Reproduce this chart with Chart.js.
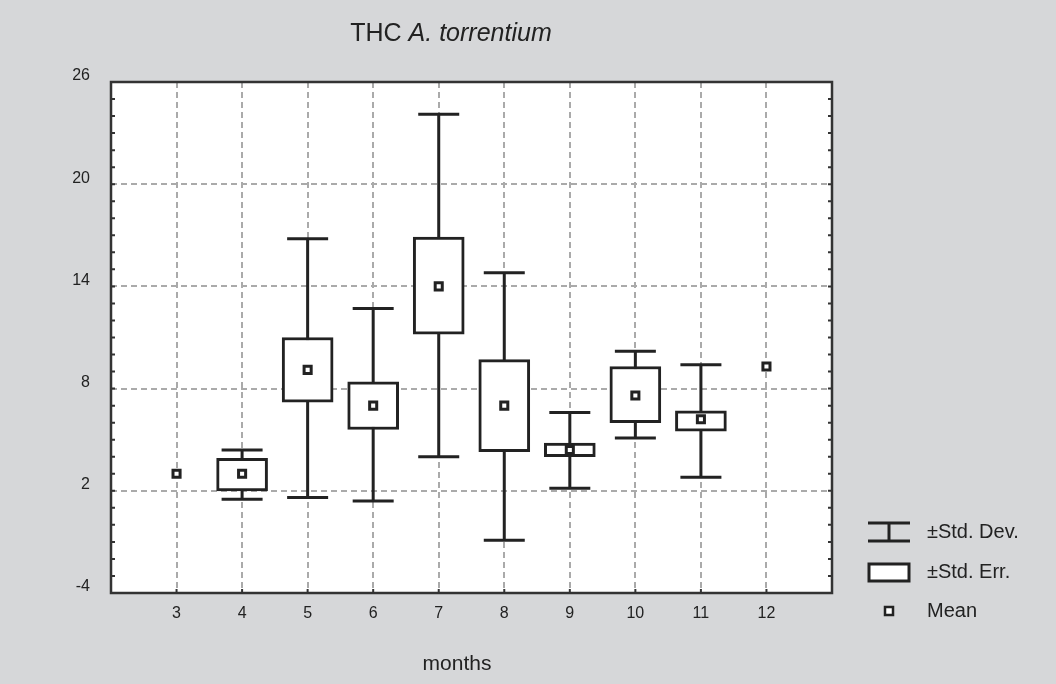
<!DOCTYPE html>
<html>
<head>
<meta charset="utf-8">
<script src="https://cdn.jsdelivr.net/npm/chart.js@4"></script>
<style>
  html, body { margin: 0; padding: 0; background: #d6d7d9; }
  #wrap { width: 1056px; height: 684px; position: relative; }
</style>
</head>
<body>
<div id="wrap"><canvas id="chart"></canvas></div>
<script>
// data
const months = [3, 4, 5, 6, 7, 8, 9, 10, 11, 12];
const means  = [3.0, 3.0, 9.1, 7.0, 14.0, 7.0, 4.4, 7.6, 6.2, 9.3];
const seLow  = [null, 2.0, 7.2, 5.6, 11.2, 4.3, 4.0, 6.0, 5.5, null];
const seHigh = [null, 3.9, 11.0, 8.4, 16.9, 9.7, 4.8, 9.3, 6.7, null];
const sdLow  = [null, 1.5, 1.6, 1.4, 4.0, -0.9, 2.15, 5.1, 2.8, null];
const sdHigh = [null, 4.4, 16.8, 12.7, 24.1, 14.8, 6.6, 10.2, 9.4, null];
const yMajor = [-4, 2, 8, 14, 20, 26];

const INK = '#222222';
const FONT = '"Liberation Sans", Arial, sans-serif';

const boxData = [];
months.forEach((m, i) => {
  if (seLow[i] !== null) boxData.push({ x: m, y: [seLow[i], seHigh[i]] });
});
const meanData = months.map((m, i) => ({ x: m, y: means[i] }));

// plot background, frame, inward ticks, whiskers, title, legend
const decor = {
  id: 'decor',
  beforeDraw(chart) {
    const { ctx, chartArea: a } = chart;
    ctx.save();
    ctx.fillStyle = '#ffffff';
    ctx.fillRect(a.left, a.top, a.right - a.left, a.bottom - a.top);
    ctx.restore();
  },
  beforeDatasetsDraw(chart) {
    const { ctx, scales: { x, y } } = chart;
    ctx.save();
    ctx.strokeStyle = INK;
    ctx.lineWidth = 3;
    months.forEach((m, i) => {
      if (sdLow[i] === null) return;
      const px = x.getPixelForValue(m);
      const top = y.getPixelForValue(sdHigh[i]);
      const bot = y.getPixelForValue(sdLow[i]);
      ctx.beginPath();
      ctx.moveTo(px, top); ctx.lineTo(px, bot);
      ctx.moveTo(px - 20.5, top); ctx.lineTo(px + 20.5, top);
      ctx.moveTo(px - 20.5, bot); ctx.lineTo(px + 20.5, bot);
      ctx.stroke();
    });
    ctx.restore();
  },
  afterDraw(chart) {
    const { ctx, chartArea: a, scales: { x, y } } = chart;
    ctx.save();
    // inward ticks
    ctx.strokeStyle = '#333333';
    ctx.lineWidth = 2;
    ctx.beginPath();
    y.ticks.forEach(t => {
      const py = y.getPixelForValue(t.value);
      ctx.moveTo(a.left, py); ctx.lineTo(a.left + 4, py);
      ctx.moveTo(a.right, py); ctx.lineTo(a.right - 4, py);
    });
    x.ticks.forEach(t => {
      const px = x.getPixelForValue(t.value);
      ctx.moveTo(px, a.bottom); ctx.lineTo(px, a.bottom - 4);
    });
    ctx.stroke();
    // frame
    ctx.lineWidth = 2.5;
    ctx.strokeRect(a.left, a.top, a.right - a.left, a.bottom - a.top);

    // title
    ctx.fillStyle = INK;
    ctx.textBaseline = 'alphabetic';
    ctx.textAlign = 'left';
    const t1 = 'THC ', t2 = 'A. torrentium';
    ctx.font = '25px ' + FONT;
    const w1 = ctx.measureText(t1).width;
    ctx.font = 'italic 25px ' + FONT;
    const w2 = ctx.measureText(t2).width;
    const tx = 451 - (w1 + w2) / 2;
    ctx.font = '25px ' + FONT;
    ctx.fillText(t1, tx, 41);
    ctx.font = 'italic 25px ' + FONT;
    ctx.fillText(t2, tx + w1, 41);

    // x axis title
    ctx.font = '21px ' + FONT;
    ctx.textAlign = 'center';
    ctx.fillText('months', 457, 670);

    // legend
    ctx.strokeStyle = INK;
    ctx.lineWidth = 3;
    ctx.beginPath();
    ctx.moveTo(868, 523); ctx.lineTo(910, 523);
    ctx.moveTo(868, 541); ctx.lineTo(910, 541);
    ctx.moveTo(889, 523); ctx.lineTo(889, 541);
    ctx.stroke();
    ctx.fillStyle = '#ffffff';
    ctx.fillRect(869, 564, 40, 17);
    ctx.strokeRect(869, 564, 40, 17);
    ctx.lineWidth = 2.5;
    ctx.fillRect(885, 607, 8, 8);
    ctx.strokeRect(885, 607, 8, 8);
    ctx.fillStyle = INK;
    ctx.font = '20px ' + FONT;
    ctx.textAlign = 'left';
    ctx.textBaseline = 'middle';
    ctx.fillText('\u00b1Std. Dev.', 927, 532);
    ctx.fillText('\u00b1Std. Err.', 927, 572);
    ctx.fillText('Mean', 927, 611);
    ctx.restore();
  }
};

new Chart(document.getElementById('chart'), {
  type: 'bar',
  data: {
    datasets: [
      {
        label: '\u00b1Std. Err.',
        data: boxData,
        backgroundColor: '#ffffff',
        borderColor: INK,
        borderWidth: 3,
        borderSkipped: false,
        barThickness: 51,
        order: 2
      },
      {
        type: 'scatter',
        label: 'Mean',
        data: meanData,
        pointStyle: 'rect',
        pointRadius: 5,
        pointBorderWidth: 3,
        pointBackgroundColor: '#ffffff',
        pointBorderColor: INK,
        order: 1
      }
    ]
  },
  options: {
    responsive: true,
    maintainAspectRatio: false,
    animation: false,
    layout: { padding: { top: 82, right: 224, bottom: 0, left: 0 } },
    plugins: {
      legend: { display: false },
      tooltip: { enabled: false },
      title: { display: false }
    },
    scales: {
      x: {
        type: 'linear',
        min: 2,
        max: 13,
        offset: false,
        afterFit: s => { s.height = 91; },
        border: { display: false, dash: [6, 4] },
        grid: {
          offset: false,
          drawTicks: false,
          lineWidth: 2,
          color: c => (c.tick && c.tick.value > 2 && c.tick.value < 13) ? '#aaaaaa' : 'rgba(0,0,0,0)'
        },
        ticks: {
          stepSize: 1,
          autoSkip: false,
          maxRotation: 0,
          padding: 11,
          color: INK,
          font: { family: FONT, size: 16 },
          callback: v => (v > 2 && v < 13) ? String(v) : ''
        }
      },
      y: {
        min: -4,
        max: 26,
        afterFit: s => { s.width = 111; },
        border: { display: false, dash: [6, 4] },
        grid: {
          drawTicks: false,
          lineWidth: 2,
          color: c => (c.tick && yMajor.includes(c.tick.value) && c.tick.value > -4 && c.tick.value < 26) ? '#aaaaaa' : 'rgba(0,0,0,0)'
        },
        ticks: {
          stepSize: 1,
          autoSkip: false,
          padding: 21,
          labelOffset: -6,
          color: INK,
          font: { family: FONT, size: 16 },
          callback: v => yMajor.includes(v) ? String(v) : ''
        }
      }
    }
  },
  plugins: [decor]
});
</script>
</body>
</html>
